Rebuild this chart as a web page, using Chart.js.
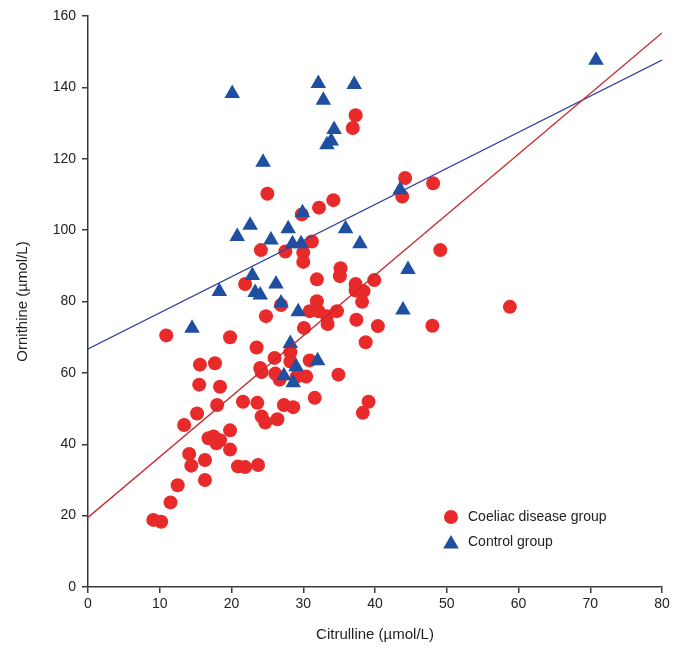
<!DOCTYPE html>
<html>
<head>
<meta charset="utf-8">
<script src="https://cdn.jsdelivr.net/npm/chart.js@4/dist/chart.umd.min.js"></script>
<style>
  html, body { margin: 0; padding: 0; background: #fff; }
  #wrap { width: 686px; height: 648px; }
</style>
</head>
<body>
<div id="wrap"><canvas id="chart" width="686" height="648"></canvas></div>
<script>
// Coeliac disease group: citrulline (x) vs ornithine (y), µmol/L
const coeliacX = [9.1, 10.2, 11.5, 12.5, 13.4, 14.1, 14.4, 15.2, 15.5, 16.3, 16.3, 16.8, 17.5, 17.9, 18.4,
  18.0, 18.4, 19.8, 19.8, 20.9, 21.9, 21.6, 23.6, 23.7, 24.2, 24.7, 26.4, 27.3, 28.6, 31.6,
  15.6, 17.7, 10.9, 19.8, 23.5, 24.0, 24.2, 26.0, 26.1, 26.7, 28.2, 28.2, 29.1, 30.4, 30.9,
  34.9, 24.8, 30.1, 30.9, 32.1, 33.3, 33.4, 34.7, 31.9, 31.9, 35.1, 35.2, 37.3, 37.3, 38.4,
  39.9, 38.2, 37.4, 40.4, 38.7, 39.1, 38.3, 27.5, 30.0, 30.0, 24.1, 21.9, 31.2, 29.8, 32.2,
  34.2, 25.0, 37.3, 36.9, 44.2, 43.8, 48.1, 49.1, 48.0, 58.8, 26.9];
const coeliacY = [18.8, 18.3, 23.7, 28.5, 45.4, 37.3, 34.0, 48.6, 56.7, 30.0, 35.6, 41.7, 42.2, 40.3, 41.1,
  51.0, 56.1, 43.9, 38.5, 33.8, 33.6, 51.9, 51.6, 34.2, 47.8, 46.1, 47.0, 51.0, 50.4, 53.0,
  62.3, 62.7, 70.5, 70.0, 67.1, 61.4, 60.2, 64.2, 59.8, 58.1, 65.8, 63.2, 59.0, 59.0, 63.5,
  59.5, 75.9, 72.6, 77.3, 77.3, 75.9, 73.7, 77.3, 80.1, 86.2, 87.1, 89.3, 84.9, 83.1, 82.9,
  86.0, 79.9, 74.9, 73.1, 68.6, 51.9, 48.8, 94.0, 93.7, 91.1, 94.4, 84.9, 96.8, 104.4, 106.3,
  108.4, 110.2, 132.2, 128.6, 114.6, 109.4, 113.1, 94.4, 73.2, 78.5, 79.0];

// Control group
const controlX = [14.5, 18.3, 20.1, 20.8, 22.6, 22.9, 23.3, 24.0, 24.4, 25.5, 26.2, 26.9, 27.9, 28.5, 29.7,
  29.3, 29.9, 28.2, 29.0, 32.0, 27.3, 28.6, 32.1, 37.1, 32.8, 34.3, 33.9, 33.3, 35.9, 37.9,
  43.5, 44.6, 43.9, 70.8];
const controlY = [72.5, 82.8, 138.3, 98.2, 101.4, 87.3, 82.5, 81.8, 119.0, 97.2, 84.9, 79.6, 100.4, 96.2, 96.2,
  77.1, 104.9, 68.2, 61.7, 63.4, 59.2, 57.2, 141.1, 140.8, 136.4, 128.2, 125.0, 123.9, 100.4, 96.2,
  111.3, 89.0, 77.6, 147.6];

// regression lines (intercept, slope)
const coeliacFit = [19.5, 1.697];
const controlFit = [66.7, 1.012];
const xTicks = [0, 10, 20, 30, 40, 50, 60, 70, 80];
const yTicks = [0, 20, 40, 60, 80, 100, 120, 140, 160];

const RED = '#e82a2b';
const BLUE = '#1f4fa0';
const RED_LINE = '#c8262b';
const BLUE_LINE = '#34409a';
const AXIS = '#3a3a3a';
const FONT = "'Liberation Sans', Arial, sans-serif";

const toPoints = (xs, ys) => xs.map((x, i) => ({ x: x, y: ys[i] }));
const fitLine = (f) => [xTicks[0], xTicks[xTicks.length - 1]].map(x => ({ x: x, y: f[0] + f[1] * x }));

// legend drawn inside the plot area, lower right
const legendBox = {
  id: 'legendBox',
  afterDatasetsDraw(chart) {
    const { ctx, chartArea } = chart;
    const x0 = chartArea.left + 363;
    const y0 = chartArea.top + 501;
    ctx.save();
    ctx.font = '14px ' + FONT;
    ctx.fillStyle = '#222';
    ctx.textBaseline = 'middle';
    ctx.fillText('Coeliac disease group', x0 + 17, y0);
    ctx.fillText('Control group', x0 + 17, y0 + 25);
    ctx.fillStyle = RED;
    ctx.beginPath();
    ctx.arc(x0, y0, 7, 0, Math.PI * 2);
    ctx.fill();
    ctx.fillStyle = BLUE;
    ctx.strokeStyle = BLUE;
    Chart.helpers.drawPoint(ctx, { pointStyle: 'triangle', radius: 9, borderWidth: 0 }, x0, y0 + 27);
    ctx.restore();
  }
};

new Chart(document.getElementById('chart'), {
  type: 'scatter',
  data: {
    datasets: [
      {
        label: 'Coeliac disease group',
        data: toPoints(coeliacX, coeliacY),
        pointStyle: 'circle',
        pointRadius: 7,
        backgroundColor: RED,
        borderWidth: 0,
        order: 3
      },
      {
        label: 'Control group',
        data: toPoints(controlX, controlY),
        pointStyle: 'triangle',
        pointRadius: 9,
        backgroundColor: BLUE,
        borderWidth: 0,
        order: 2
      },
      {
        type: 'line',
        data: fitLine(coeliacFit),
        borderColor: RED_LINE,
        borderWidth: 1.3,
        pointRadius: 0,
        order: 1
      },
      {
        type: 'line',
        data: fitLine(controlFit),
        borderColor: BLUE_LINE,
        borderWidth: 1.3,
        pointRadius: 0,
        order: 1
      }
    ]
  },
  options: {
    responsive: false,
    animation: false,
    layout: { padding: { left: 0, right: 24, top: 16, bottom: 0 } },
    plugins: {
      legend: { display: false },
      tooltip: { enabled: false }
    },
    scales: {
      x: {
        type: 'linear',
        min: 0,
        max: 80,
        afterBuildTicks: s => { s.ticks = xTicks.map(v => ({ value: v })); },
        afterFit: s => { s.height = 61; },
        grid: { drawOnChartArea: false, drawTicks: true, tickLength: 6, color: AXIS, lineWidth: 1.5 },
        border: { color: AXIS, width: 1.5 },
        ticks: { color: '#222', font: { family: FONT, size: 14 }, padding: 3 },
        title: { display: true, text: 'Citrulline (µmol/L)', color: '#222', font: { family: FONT, size: 15 }, padding: { top: 10 } }
      },
      y: {
        type: 'linear',
        min: 0,
        max: 160,
        afterBuildTicks: s => { s.ticks = yTicks.map(v => ({ value: v })); },
        afterFit: s => { s.width = 88; },
        grid: { drawOnChartArea: false, drawTicks: true, tickLength: 6, color: AXIS, lineWidth: 1.5 },
        border: { color: AXIS, width: 1.5 },
        ticks: { color: '#222', font: { family: FONT, size: 14 }, padding: 6 },
        title: { display: true, text: 'Ornithine (µmol/L)', color: '#222', font: { family: FONT, size: 15 }, padding: { top: 14, bottom: 0 } }
      }
    }
  },
  plugins: [legendBox]
});
</script>
</body>
</html>
